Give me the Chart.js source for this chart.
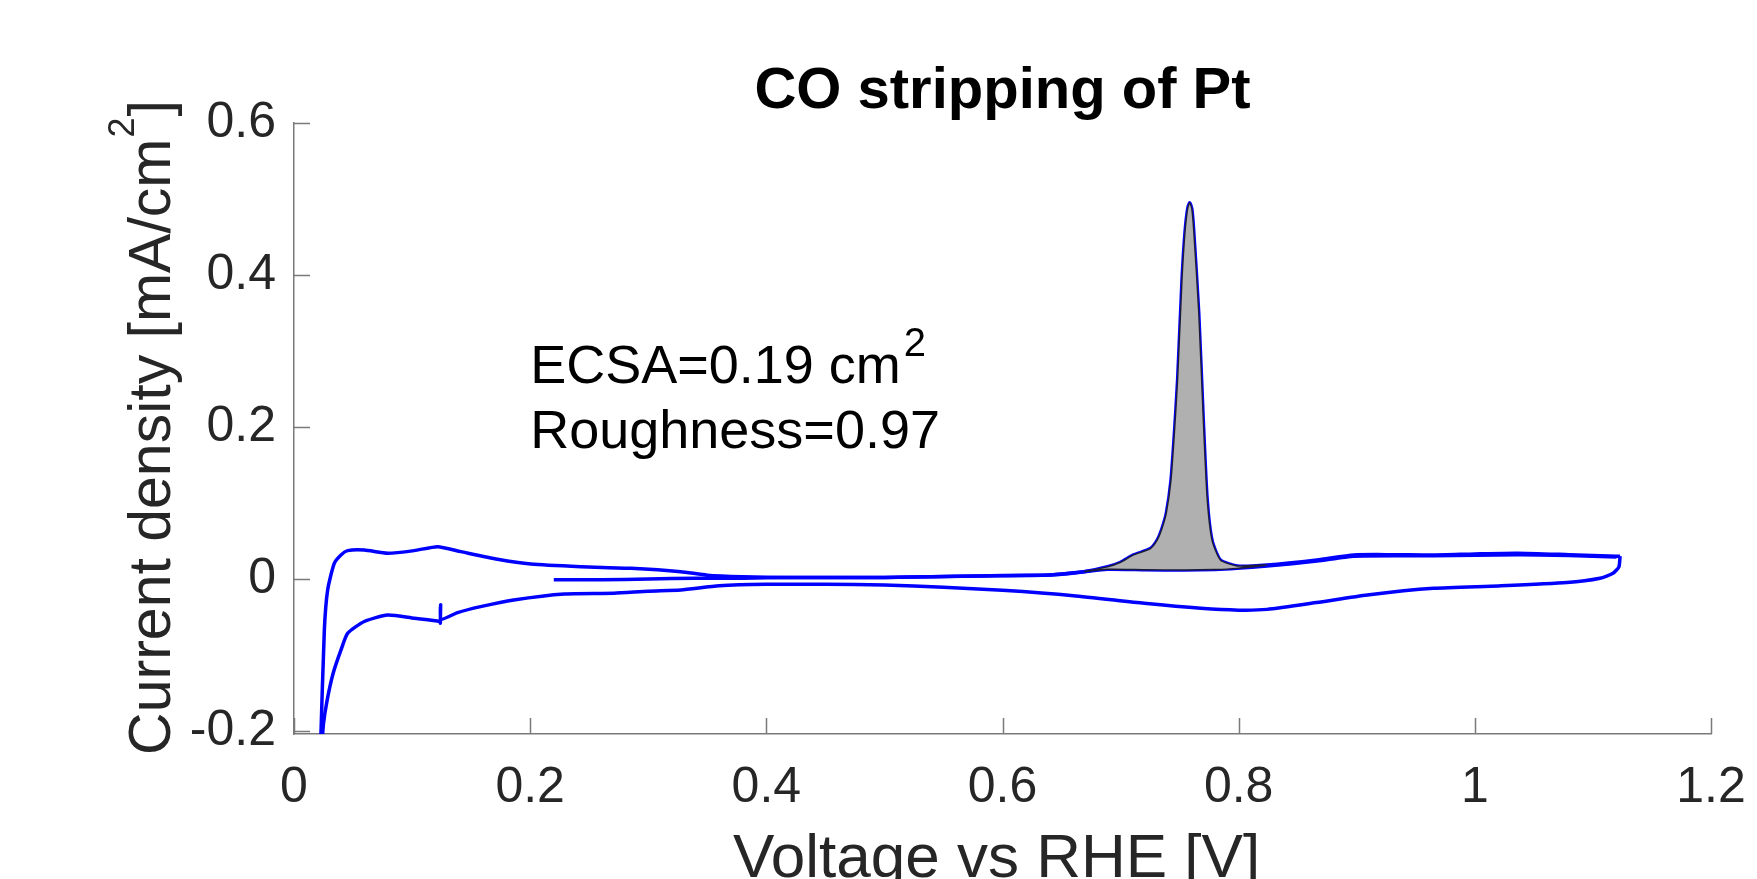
<!DOCTYPE html>
<html>
<head>
<meta charset="utf-8">
<title>CO stripping of Pt</title>
<script src="https://cdn.jsdelivr.net/npm/chart.js@4.4.0/dist/chart.umd.min.js"></script>
<style>
  html, body { margin: 0; padding: 0; background: #fff; overflow: hidden; }
  #chart { display: block; }
</style>
</head>
<body>
<canvas id="chart" width="1757" height="879"></canvas>
<script>
// Axis ticks
const voltageTicks = [0, 0.2, 0.4, 0.6, 0.8, 1, 1.2];
const voltageTickLabels = ['0', '0.2', '0.4', '0.6', '0.8', '1', '1.2'];
const currentTicks = [-0.2, 0, 0.2, 0.4, 0.6];
const currentTickLabels = ['-0.2', '0', '0.2', '0.4', '0.6'];

// First anodic sweep (starts at 0.22 V, contains the CO oxidation peak)
const anodic1V = [0.22, 0.26, 0.30, 0.34, 0.38, 0.42, 0.46, 0.50, 0.54, 0.58, 0.62, 0.64, 0.669, 0.689, 0.700, 0.711,
  0.7253, 0.731, 0.735, 0.7388, 0.7427, 0.7455, 0.7483, 0.752, 0.7545, 0.7568, 0.7585, 0.7603, 0.7619, 0.7662, 0.7698, 0.7732,
  0.7774, 0.7845, 0.7986, 0.824, 0.8663, 0.8976, 0.93, 0.965, 1.00, 1.036, 1.08, 1.12, 1.123];
const anodic1J = [-0.001, -0.001, 0.000, 0.001, 0.001, 0.002, 0.002, 0.002, 0.003, 0.004, 0.005, 0.0053, 0.0096, 0.016, 0.022, 0.0316,
  0.040, 0.051, 0.066, 0.087, 0.130, 0.190, 0.262, 0.393, 0.455, 0.487, 0.495, 0.487, 0.459, 0.350, 0.218, 0.108,
  0.051, 0.025, 0.0171, 0.0184, 0.025, 0.0316, 0.032, 0.0316, 0.033, 0.034, 0.032, 0.030, 0.030];

// Cathodic sweep (1.12 V back to the lower limit)
const cathodicV = [1.123, 1.122, 1.117, 1.106, 1.078, 1.02, 0.965, 0.909, 0.866, 0.824, 0.80, 0.768, 0.72, 0.66, 0.60,
  0.55, 0.50, 0.45, 0.40, 0.36, 0.3275, 0.30, 0.271, 0.229, 0.186, 0.158, 0.1385, 0.1245, 0.1242, 0.1239, 0.1235,
  0.1018, 0.0793, 0.0595, 0.0454, 0.0398, 0.033, 0.028, 0.025, 0.0235];
const cathodicJ = [0.030, 0.016, 0.0075, 0.0009, -0.0048, -0.0092, -0.0123, -0.021, -0.031, -0.040, -0.041, -0.0386, -0.032, -0.022, -0.015,
  -0.011, -0.008, -0.007, -0.007, -0.009, -0.0145, -0.016, -0.0188, -0.0197, -0.0276, -0.0364, -0.0443, -0.053, -0.034, -0.058, -0.056,
  -0.0518, -0.0474, -0.056, -0.0715, -0.0934, -0.125, -0.16, -0.19, -0.22];

// Second anodic sweep (hydrogen region, then the CO-free baseline)
const anodic2V = [0.0225, 0.0257, 0.0285, 0.0341, 0.040, 0.0454, 0.0595, 0.0793, 0.1018, 0.1216, 0.1413, 0.1724, 0.2006,
  0.2429, 0.2852, 0.3275, 0.35, 0.38, 0.42, 0.50, 0.58, 0.64, 0.669, 0.6886, 0.72, 0.7535, 0.78, 0.7986, 0.824,
  0.8663, 0.8976, 0.965, 1.036, 1.08, 1.12];
const anodic2J = [-0.22, -0.067, -0.0145, 0.0206, 0.032, 0.0373, 0.038, 0.0338, 0.0373, 0.0425, 0.036, 0.026, 0.0197,
  0.0162, 0.014, 0.0096, 0.005, 0.003, 0.002, 0.002, 0.004, 0.0053, 0.0096, 0.0127, 0.0122, 0.0118, 0.0125, 0.014, 0.017,
  0.0235, 0.030, 0.0305, 0.032, 0.031, 0.029];

// Integrated CO stripping charge (peak above the baseline)
const peakAreaV = [0.669, 0.689, 0.700, 0.711, 0.7253, 0.731, 0.735, 0.7388, 0.7427, 0.7455, 0.7483, 0.752, 0.7545, 0.7568, 0.7585,
  0.7603, 0.7619, 0.7662, 0.7698, 0.7732, 0.7774, 0.7845, 0.7986, 0.824, 0.7986, 0.78, 0.7535, 0.72, 0.6886, 0.669];
const peakAreaJ = [0.0096, 0.016, 0.022, 0.0316, 0.040, 0.051, 0.066, 0.087, 0.130, 0.190, 0.262, 0.393, 0.455, 0.487, 0.495,
  0.487, 0.459, 0.350, 0.218, 0.108, 0.051, 0.025, 0.0171, 0.0184, 0.014, 0.0125, 0.0118, 0.0122, 0.0127, 0.0096];

const chartTitle = 'CO stripping of Pt';
const xLabel = 'Voltage vs RHE [V]';
const yLabelMain = 'Current density [mA/cm';
const yLabelSup = '2';
const yLabelEnd = ']';
const ecsaText = 'ECSA=0.19 cm';
const ecsaSup = '2';
const roughnessText = 'Roughness=0.97';

const FONT = '"Liberation Sans", Arial, Helvetica, sans-serif';
const BLUE = '#0000ff';
const AXIS_GREY = '#7a7a7a';
const TEXT_DARK = '#262626';

function toPoints(xs, ys) {
  return xs.map((x, i) => ({ x: x, y: ys[i] }));
}

// Inward tick marks and the text with superscripts
const decorations = {
  id: 'decorations',
  beforeDatasetsDraw(chart) {
    const { ctx, chartArea } = chart;
    const xs = chart.scales.x;
    const ys = chart.scales.y;
    const len = 16;
    ctx.save();
    ctx.strokeStyle = AXIS_GREY;
    ctx.lineWidth = 1.5;
    ctx.beginPath();
    voltageTicks.forEach(v => {
      const px = Math.round(xs.getPixelForValue(v)) + 0.5;
      ctx.moveTo(px, chartArea.bottom);
      ctx.lineTo(px, chartArea.bottom - len);
    });
    currentTicks.forEach(v => {
      const py = Math.round(ys.getPixelForValue(v)) + 0.5;
      ctx.moveTo(chartArea.left, py);
      ctx.lineTo(chartArea.left + len, py);
    });
    ctx.stroke();
    ctx.restore();
  },
  afterDraw(chart) {
    const { ctx, chartArea } = chart;
    const xs = chart.scales.x;
    const ys = chart.scales.y;
    const midX = (chartArea.left + chartArea.right) / 2;
    const midY = (chartArea.top + chartArea.bottom) / 2;
    ctx.save();
    ctx.textBaseline = 'alphabetic';

    // title
    ctx.fillStyle = '#000';
    ctx.font = 'bold 58px ' + FONT;
    ctx.textAlign = 'center';
    ctx.fillText(chartTitle, midX, chartArea.top - 15);

    // x label
    ctx.fillStyle = TEXT_DARK;
    ctx.font = '62px ' + FONT;
    ctx.fillText(xLabel, midX - 6, chartArea.bottom + 143);

    // y label, rotated, with superscript
    ctx.save();
    ctx.translate(170, midY);
    ctx.rotate(-Math.PI / 2);
    ctx.textAlign = 'left';
    ctx.font = '59px ' + FONT;
    const wMain = ctx.measureText(yLabelMain).width;
    const wEnd = ctx.measureText(yLabelEnd).width;
    ctx.font = '36px ' + FONT;
    const wSup = ctx.measureText(yLabelSup).width;
    const total = wMain + wSup + wEnd;
    const x0 = -total / 2;
    ctx.font = '59px ' + FONT;
    ctx.fillText(yLabelMain, x0, 0);
    ctx.font = '36px ' + FONT;
    ctx.fillText(yLabelSup, x0 + wMain + 1, -36);
    ctx.font = '59px ' + FONT;
    ctx.fillText(yLabelEnd, x0 + wMain + wSup + 2, 0);
    ctx.restore();

    // annotation
    ctx.fillStyle = '#000';
    ctx.textAlign = 'left';
    const ax = xs.getPixelForValue(0.2);
    const ay = ys.getPixelForValue(0.25);
    ctx.font = '54px ' + FONT;
    ctx.fillText(ecsaText, ax, ay - 6);
    const wE = ctx.measureText(ecsaText).width;
    ctx.font = '40px ' + FONT;
    ctx.fillText(ecsaSup, ax + wE + 3, ay - 33);
    ctx.font = '54px ' + FONT;
    ctx.fillText(roughnessText, ax, ay + 59);
    ctx.restore();
  }
};

const lineStyle = {
  showLine: true,
  borderColor: BLUE,
  borderWidth: 3.5,
  pointRadius: 0,
  fill: false,
  tension: 0.2,
  order: 1
};

new Chart(document.getElementById('chart'), {
  type: 'scatter',
  data: {
    datasets: [
      Object.assign({ label: 'First anodic sweep', data: toPoints(anodic1V, anodic1J) }, lineStyle),
      Object.assign({ label: 'Cathodic sweep', data: toPoints(cathodicV, cathodicJ) }, lineStyle),
      Object.assign({ label: 'Second anodic sweep', data: toPoints(anodic2V, anodic2J) }, lineStyle),
      {
        label: 'CO stripping charge',
        data: toPoints(peakAreaV, peakAreaJ),
        showLine: true,
        borderColor: '#1c1c3a',
        borderWidth: 1.4,
        backgroundColor: '#b0b0b0',
        pointRadius: 0,
        fill: 'shape',
        tension: 0.2,
        order: 0
      }
    ]
  },
  options: {
    responsive: false,
    animation: false,
    devicePixelRatio: 1,
    layout: { padding: { top: 123, right: 46, left: 0, bottom: 0 } },
    plugins: {
      legend: { display: false },
      tooltip: { enabled: false },
      title: { display: false }
    },
    scales: {
      x: {
        type: 'linear',
        min: 0,
        max: 1.2,
        afterFit: s => { s.height = 145; s.paddingLeft = 0; s.paddingRight = 0; },
        afterBuildTicks: s => { s.ticks = voltageTicks.map(v => ({ value: v })); },
        grid: { display: false, drawTicks: false },
        border: { display: true, color: AXIS_GREY, width: 1.5 },
        ticks: {
          autoSkip: false,
          maxRotation: 0,
          padding: 24,
          color: TEXT_DARK,
          font: { family: FONT, size: 50 },
          callback: (v, i) => voltageTickLabels[i]
        }
      },
      y: {
        type: 'linear',
        min: -0.204,
        max: 0.6,
        afterFit: s => { s.width = 294; },
        afterBuildTicks: s => { s.ticks = currentTicks.map(v => ({ value: v })); },
        grid: { display: false, drawTicks: false },
        border: { display: true, color: AXIS_GREY, width: 1.5 },
        ticks: {
          autoSkip: false,
          padding: 18,
          color: TEXT_DARK,
          font: { family: FONT, size: 50 },
          callback: (v, i) => currentTickLabels[i]
        }
      }
    }
  },
  plugins: [decorations]
});
</script>
</body>
</html>
